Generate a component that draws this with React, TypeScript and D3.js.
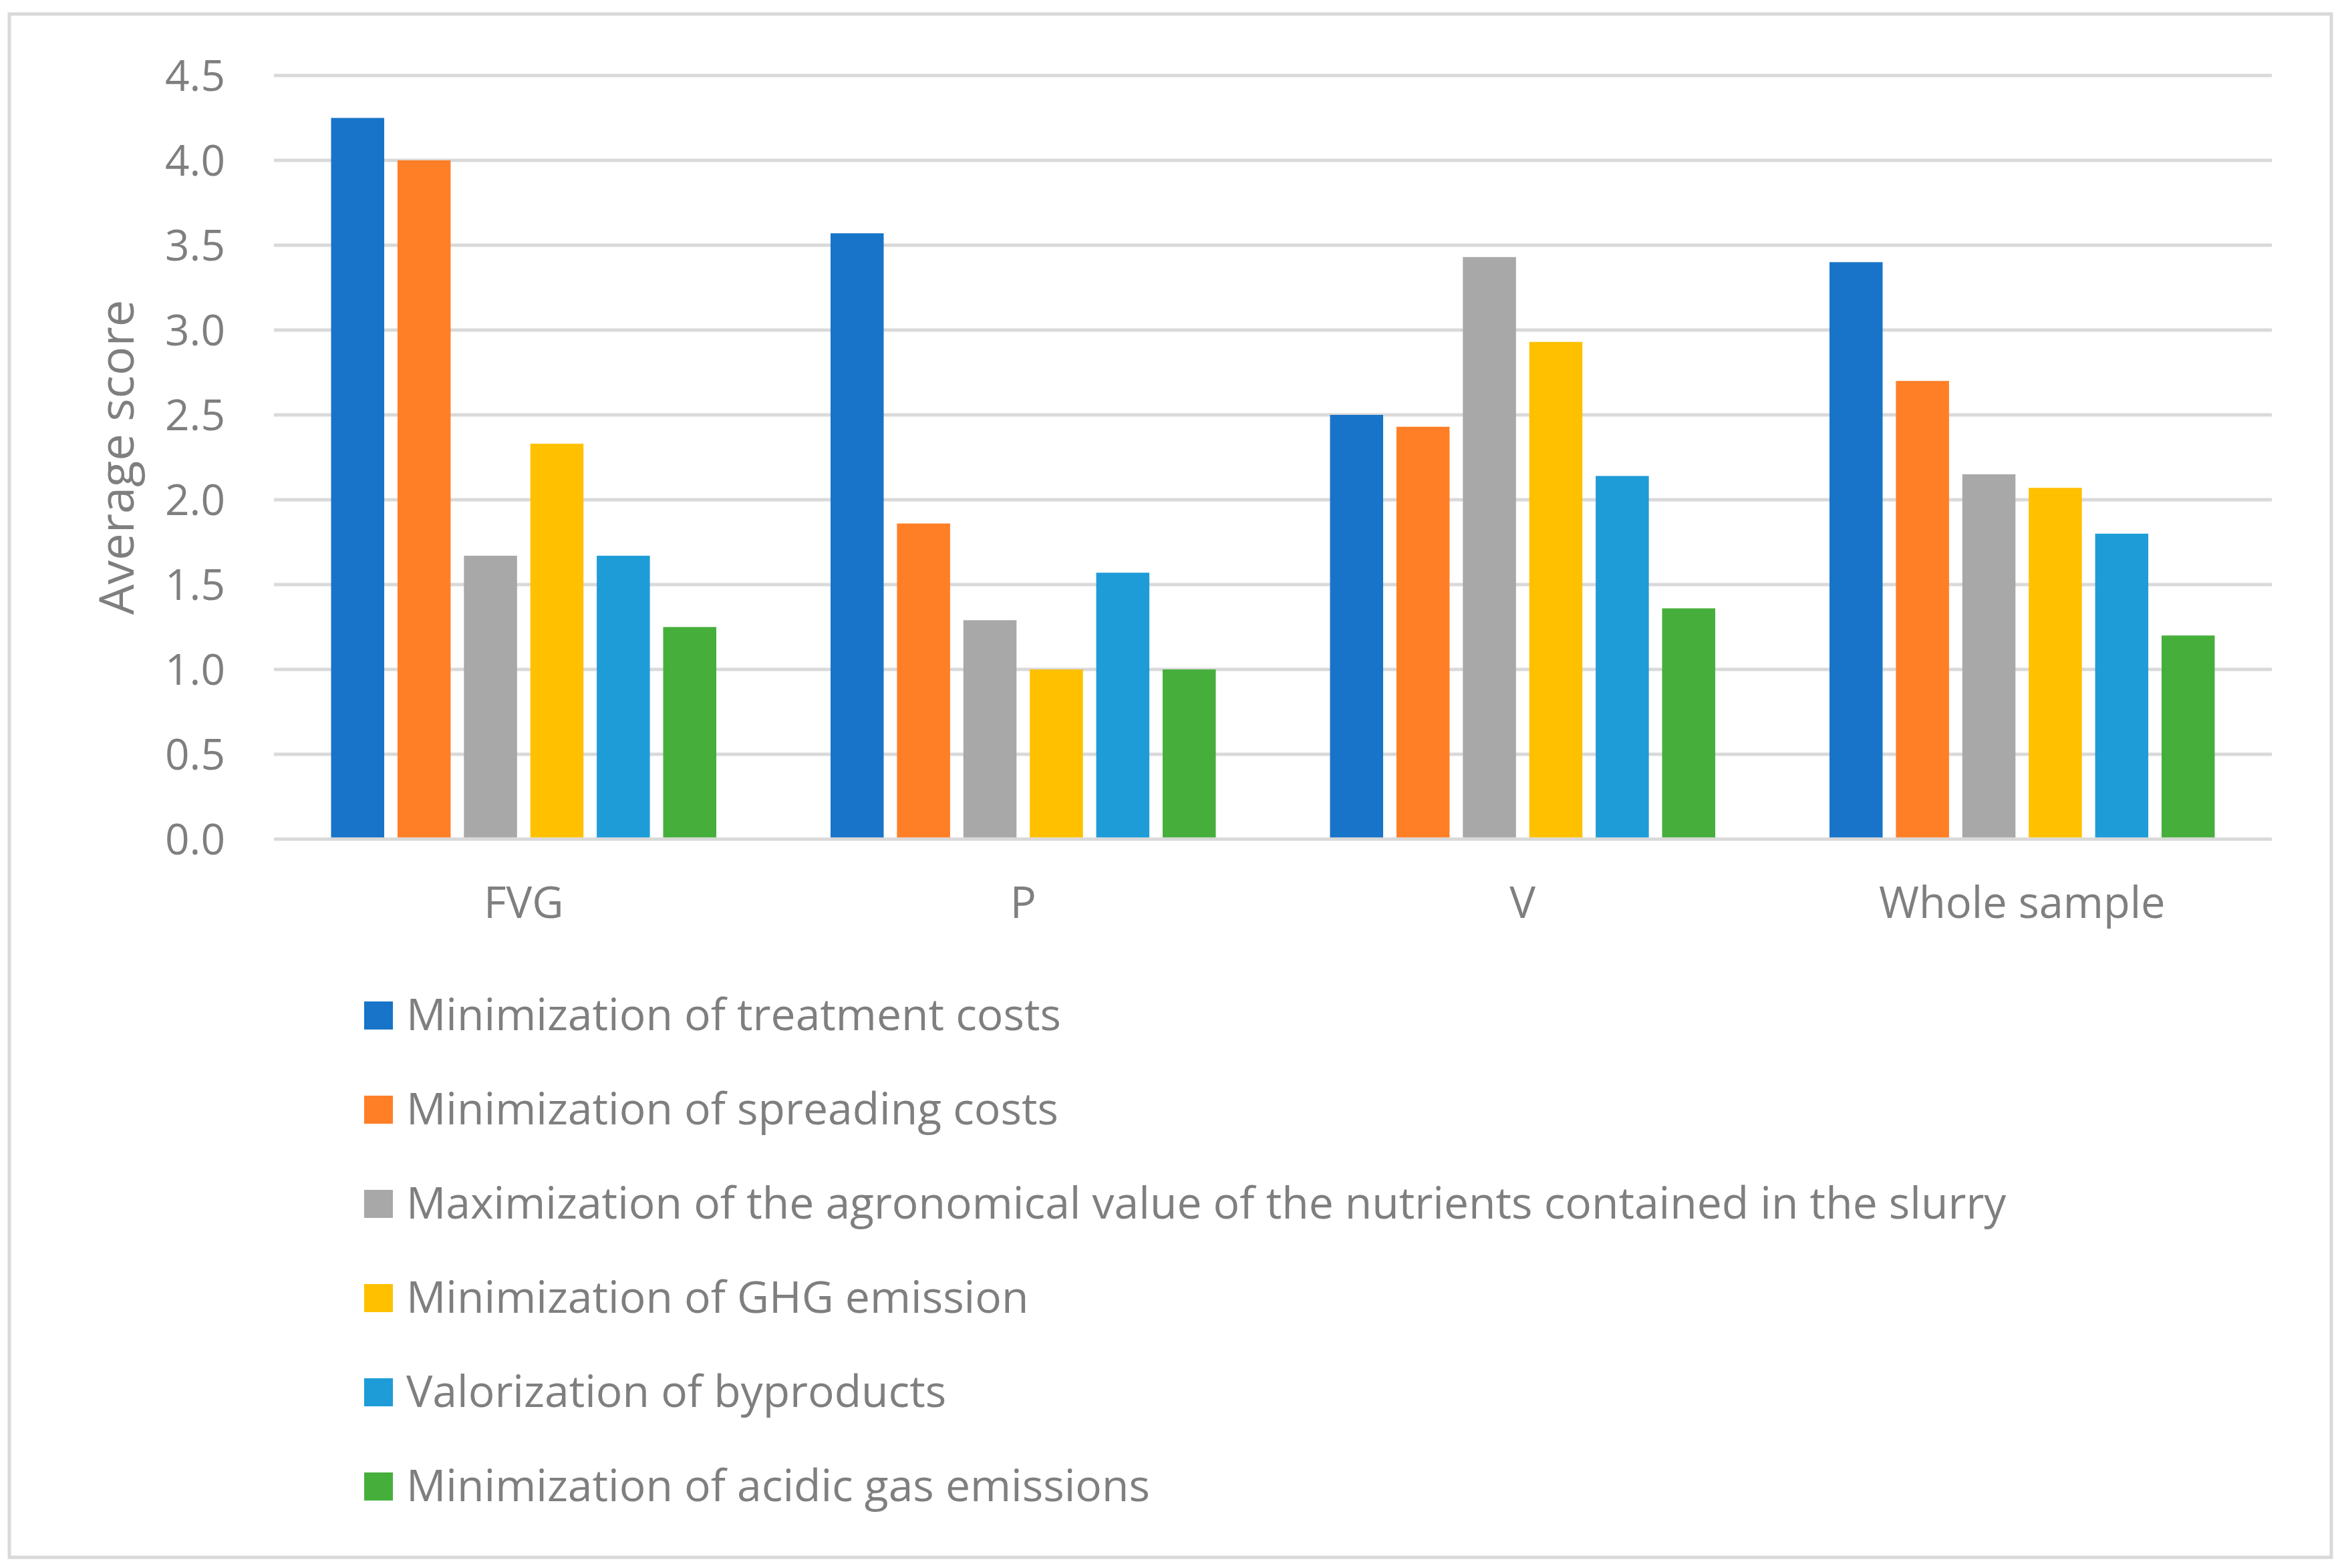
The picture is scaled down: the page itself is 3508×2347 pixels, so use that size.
import * as d3 from "d3";
import { useEffect, useRef } from "react";

// Chart data
const categories = ["FVG", "P", "V", "Whole sample"];
const seriesNames = [
  "Minimization of treatment costs",
  "Minimization of spreading costs",
  "Maximization of the agronomical value of the nutrients contained in the slurry",
  "Minimization of GHG emission",
  "Valorization of byproducts",
  "Minimization of acidic gas emissions",
];
const treatmentCosts = [4.25, 3.57, 2.5, 3.4];
const spreadingCosts = [4.0, 1.86, 2.43, 2.7];
const agronomicalValue = [1.67, 1.29, 3.43, 2.15];
const ghgEmission = [2.33, 1.0, 2.93, 2.07];
const byproducts = [1.67, 1.57, 2.14, 1.8];
const acidicGas = [1.25, 1.0, 1.36, 1.2];
const seriesValues = [treatmentCosts, spreadingCosts, agronomicalValue, ghgEmission, byproducts, acidicGas];
const yTicks = [0, 0.5, 1, 1.5, 2, 2.5, 3, 3.5, 4, 4.5];
const colors = ["#1874C8", "#FF7F27", "#A8A8A8", "#FFC000", "#1E9CD8", "#46AF3C"];

const App: React.FC = () => {
  const ref = useRef<SVGSVGElement>(null);

  const width = 3508;
  const height = 2347;
  const left = 410;
  const right = 3400;
  const top = 113;
  const bottom = 1256;
  const textColor = "#7F7F7F";
  const gridColor = "#D9D9D9";
  const font = "'Open Sans', Lato, sans-serif";

  useEffect(() => {
    if (!ref.current) return;
    const svg = d3.select(ref.current);
    svg.selectAll("*").remove();

    // outer frame
    svg
      .append("rect")
      .attr("x", 14)
      .attr("y", 21)
      .attr("width", 3475)
      .attr("height", 2310)
      .attr("fill", "white")
      .attr("stroke", gridColor)
      .attr("stroke-width", 5);

    const y = d3.scaleLinear().domain([0, 4.5]).range([bottom, top]);
    const x0 = d3.scaleBand<string>().domain(categories).range([left, right]);
    const x1 = d3
      .scaleBand<number>()
      .domain(d3.range(seriesNames.length))
      .range([0, x0.bandwidth()])
      .paddingInner(0.2)
      .paddingOuter(0.86);

    // gridlines
    svg
      .append("g")
      .selectAll("line")
      .data(yTicks)
      .enter()
      .append("line")
      .attr("x1", left)
      .attr("x2", right)
      .attr("y1", (d) => y(d))
      .attr("y2", (d) => y(d))
      .attr("stroke", gridColor)
      .attr("stroke-width", 5);

    // y tick labels
    svg
      .append("g")
      .selectAll("text")
      .data(yTicks)
      .enter()
      .append("text")
      .attr("x", 337)
      .attr("y", (d) => y(d))
      .attr("dy", "0.36em")
      .attr("text-anchor", "end")
      .style("font-family", font)
      .style("font-size", "64px")
      .style("fill", textColor)
      .text((d) => d3.format(".1f")(d));

    // y axis title
    svg
      .append("text")
      .attr("transform", `translate(200, ${(top + bottom) / 2}) rotate(-90)`)
      .attr("text-anchor", "middle")
      .style("font-family", font)
      .style("font-size", "72px")
      .style("fill", textColor)
      .text("Average score");

    // bars
    const groups = svg
      .append("g")
      .selectAll("g")
      .data(categories)
      .enter()
      .append("g")
      .attr("transform", (d) => `translate(${x0(d)}, 0)`);

    groups
      .selectAll("rect")
      .data((_d, ci) => seriesValues.map((vals, si) => ({ si, v: vals[ci] })))
      .enter()
      .append("rect")
      .attr("x", (d) => x1(d.si)!)
      .attr("width", x1.bandwidth())
      .attr("y", (d) => y(d.v))
      .attr("height", (d) => bottom - 2.5 - y(d.v))
      .attr("fill", (d) => colors[d.si]);

    // category labels
    svg
      .append("g")
      .selectAll("text")
      .data(categories)
      .enter()
      .append("text")
      .attr("x", (d) => x0(d)! + x0.bandwidth() / 2)
      .attr("y", 1374)
      .attr("text-anchor", "middle")
      .style("font-family", font)
      .style("font-size", "65px")
      .style("fill", textColor)
      .text((d) => d);

    // legend
    const legend = svg
      .append("g")
      .selectAll("g")
      .data(seriesNames)
      .enter()
      .append("g")
      .attr("transform", (_d, i) => `translate(545, ${1499 + i * 141})`);

    legend
      .append("rect")
      .attr("width", 43)
      .attr("height", 42)
      .attr("fill", (_d, i) => colors[i]);

    legend
      .append("text")
      .attr("x", 63)
      .attr("y", 43)
      .style("font-family", font)
      .style("font-size", "66px")
      .style("fill", textColor)
      .text((d) => d);
  }, []);

  return (
    <svg
      ref={ref}
      width={width}
      height={height}
      style={{ position: "absolute", left: 0, top: 0, display: "block", background: "white" }}
    ></svg>
  );
};

export default App;
